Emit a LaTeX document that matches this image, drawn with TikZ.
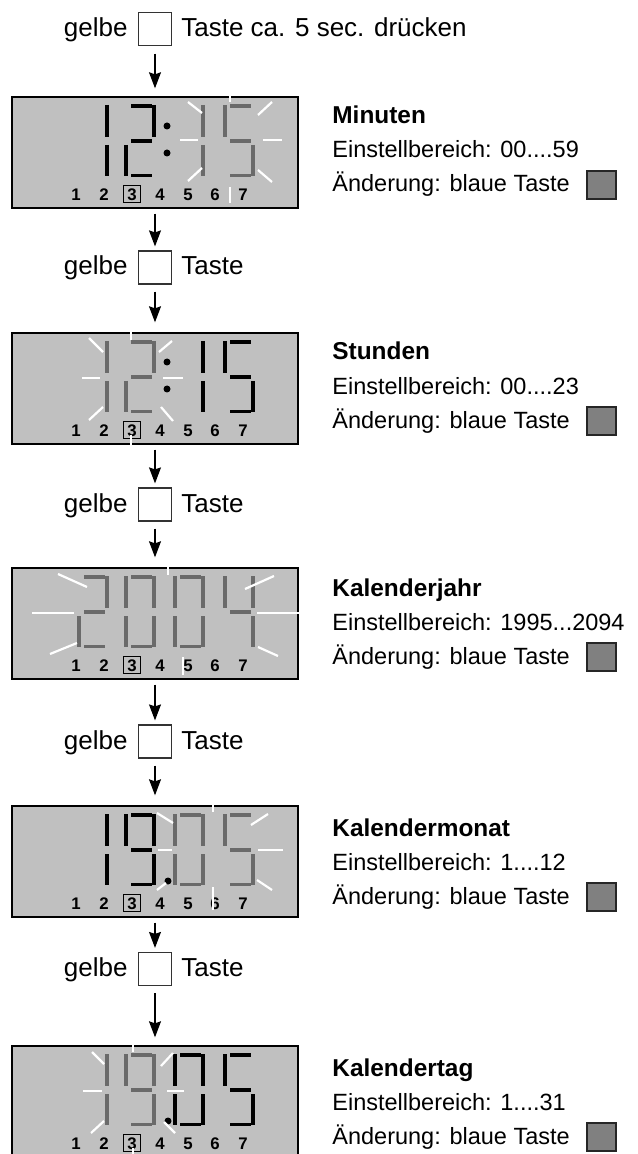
\documentclass[tikz,border=0pt]{standalone}
\usepackage{fontspec}
\setmainfont{Liberation Sans}
\usetikzlibrary{arrows.meta}
\definecolor{lcd}{HTML}{C0C0C0}
\definecolor{segg}{HTML}{6A6A6A}
\definecolor{bluek}{HTML}{808080}
\definecolor{keyb}{HTML}{333333}
% seven-segment pieces: #1 = left x of cell, #2 = style
\newcommand\sgA[2]{\draw[#2] ({#1+5},9) -- ({#1+26},9);}
\newcommand\sgG[2]{\draw[#2] ({#1+5},44) -- ({#1+26},44);}
\newcommand\sgD[2]{\draw[#2] ({#1+5},78.5) -- ({#1+26},78.5);}
\newcommand\sgF[2]{\draw[#2] (#1,8) -- (#1,40);}
\newcommand\sgB[2]{\draw[#2] ({#1+28},8) -- ({#1+28},40);}
\newcommand\sgE[2]{\draw[#2] (#1,48) -- (#1,79);}
\newcommand\sgC[2]{\draw[#2] ({#1+28},48) -- ({#1+28},79);}
\newcommand\dgOne[2]{\sgB{#1}{#2}\sgC{#1}{#2}}
\newcommand\dgTwo[2]{\sgA{#1}{#2}\sgB{#1}{#2}\sgG{#1}{#2}\sgE{#1}{#2}\sgD{#1}{#2}}
\newcommand\dgFive[2]{\sgA{#1}{#2}\sgF{#1}{#2}\sgG{#1}{#2}\sgC{#1}{#2}\sgD{#1}{#2}}
\newcommand\dgZero[2]{\sgA{#1}{#2}\sgB{#1}{#2}\sgC{#1}{#2}\sgD{#1}{#2}\sgE{#1}{#2}\sgF{#1}{#2}}
\newcommand\dgFour[2]{\sgF{#1}{#2}\sgB{#1}{#2}\sgG{#1}{#2}\sgC{#1}{#2}}
\newcommand\dgNine[2]{\sgA{#1}{#2}\sgB{#1}{#2}\sgF{#1}{#2}\sgG{#1}{#2}\sgC{#1}{#2}\sgD{#1}{#2}}
% display box with day numbers; #1 = name prefix
\newcommand\lcdbox[1]{%
  \node[disp] (#1) at (155,55.5) {};
  \foreach \i/\xx in {1/76,2/104,3/132,4/160,5/188,6/215,7/243}
    \node[num] (#1n\i) at (\xx,98) {\i};
  \node[sel] (#1s) at (132,97) {};
}
% right-hand text block; #1 prefix, #2 title, #3 range, #4 vertical offset
\newcommand\info[4]{%
  \node[ttl] (#1h) at (332,{27+#4}) {#2};
  \node[txt] (#1r) at (332,{61+#4}) {Einstellbereich: #3};
  \node[txt] (#1c) at (332,{95+#4}) {Änderung: blaue Taste};
  \node[bkey] (#1b) at (601.5,{88+#4}) {};
}
\begin{document}
\begin{tikzpicture}[x=0.5pt,y=-0.5pt,
  lbl/.style={font=\fontsize{13}{15}\selectfont, inner sep=0},
  ttl/.style={font=\bfseries\fontsize{12.2}{14}\selectfont, inner sep=0, anchor=base west},
  txt/.style={font=\fontsize{11.75}{14}\selectfont, inner sep=0, anchor=base west},
  num/.style={font=\bfseries\fontsize{8.4}{10}\selectfont, inner sep=0},
  sel/.style={draw, line width=0.6pt, minimum width=8.8pt, minimum height=8.4pt, inner sep=0},
  disp/.style={draw, fill=lcd, line width=0.7pt, minimum width=143pt, minimum height=55.5pt, inner sep=0},
  gkey/.style={draw=keyb, fill=white, line width=0.6pt, minimum size=16.5pt, inner sep=0},
  bkey/.style={draw=black!85, fill=bluek, line width=0.6pt, minimum width=14.5pt, minimum height=14pt, inner sep=0},
  sk/.style={line width=1.55pt, black},
  sg/.style={line width=1.55pt, segg},
  ray/.style={white, line width=1.1pt},
  arr/.style={-{Stealth[length=8pt,width=6pt,inset=1pt]}, line width=0.6pt}]
\useasboundingbox (0,0) rectangle (637,1154);

% ---------- key rows ----------
\node[gkey] (k1) at (155,29) {};
\node[lbl, anchor=base east] (g1) at (128,36.5) {gelbe};
\node[lbl, anchor=base west] (t1) at (181,36.5) {Taste ca. 5 sec. drücken};

\node[gkey] (k2) at (155,267.5) {};
\node[lbl, anchor=base east] (g2) at (128,275) {gelbe};
\node[lbl, anchor=base west] (t2) at (181,275) {Taste};

\node[gkey] (k3) at (155,504.5) {};
\node[lbl, anchor=base east] (g3) at (128,512) {gelbe};
\node[lbl, anchor=base west] (t3) at (181,512) {Taste};

\node[gkey] (k4) at (155,741.5) {};
\node[lbl, anchor=base east] (g4) at (128,749) {gelbe};
\node[lbl, anchor=base west] (t4) at (181,749) {Taste};

\node[gkey] (k5) at (155,969) {};
\node[lbl, anchor=base east] (g5) at (128,976.5) {gelbe};
\node[lbl, anchor=base west] (t5) at (181,976.5) {Taste};

% ---------- display 1: 12:15, minutes blinking ----------
\begin{scope}[shift={(0,97)}]
  \lcdbox{d1}
  \dgOne{79}{sk}\dgTwo{126}{sk}
  \fill (167,29) circle[radius=3.5]; \fill (167,56) circle[radius=3.5];
  \dgOne{175}{sg}\dgFive{225}{sg}
  \draw[ray] (230,-7) -- (230,5);
  \draw[ray] (188,5) -- (202,16);
  \draw[ray] (258,18) -- (272,5);
  \draw[ray] (180,43) -- (198,43);
  \draw[ray] (263,43) -- (282,43);
  \draw[ray] (188,84) -- (202,71);
  \draw[ray] (258,73) -- (272,85);
  \draw[ray] (230,90) -- (230,106);
  \info{i1}{Minuten}{00....59}{0}
\end{scope}

% ---------- display 2: 12:15, hours blinking ----------
\begin{scope}[shift={(0,333)}]
  \lcdbox{d2}
  \dgOne{79}{sg}\dgTwo{126}{sg}
  \fill (167,29) circle[radius=3.5]; \fill (167,56) circle[radius=3.5];
  \dgOne{175}{sk}\dgFive{225}{sk}
  \draw[ray] (131,-7) -- (131,7);
  \draw[ray] (89,5) -- (103,19);
  \draw[ray] (159,19) -- (172,8);
  \draw[ray] (82,45) -- (100,45);
  \draw[ray] (163,45) -- (183,45);
  \draw[ray] (89,87) -- (103,74);
  \draw[ray] (161,74) -- (173,88);
  \draw[ray] (131,102) -- (131,118);
  \info{i2}{Stunden}{00....23}{0}
\end{scope}

% ---------- display 3: 2004 blinking ----------
\begin{scope}[shift={(0,568)}]
  \lcdbox{d3}
  \dgTwo{79}{sg}\dgZero{126}{sg}\dgZero{175}{sg}\dgFour{225}{sg}
  \draw[ray] (168,-7) -- (168,7);
  \draw[ray] (58,6) -- (87,19);
  \draw[ray] (245,21) -- (274,8);
  \draw[ray] (32,45) -- (74,45);
  \draw[ray] (257,45) -- (303,45);
  \draw[ray] (50,86) -- (77,75);
  \draw[ray] (258,79) -- (278,88);
  \draw[ray] (183,89) -- (183,107);
  \info{i3}{Kalenderjahr}{1995...2094}{1}
\end{scope}

% ---------- display 4: 19.05, month blinking ----------
\begin{scope}[shift={(0,806)}]
  \lcdbox{d4}
  \dgOne{79}{sk}\dgNine{126}{sk}
  \fill (168,75) circle[radius=3.5];
  \dgZero{175}{sg}\dgFive{225}{sg}
  \draw[ray] (213,-7) -- (213,6);
  \draw[ray] (157,7) -- (173,17);
  \draw[ray] (251,19) -- (268,8);
  \draw[ray] (158,44) -- (172,44);
  \draw[ray] (258,44) -- (283,44);
  \draw[ray] (157,84) -- (166,77);
  \draw[ray] (257,74) -- (272,84);
  \draw[ray] (213,81) -- (213,104);
  \info{i4}{Kalendermonat}{1....12}{3}
\end{scope}

% ---------- display 5: 19.05, day blinking ----------
\begin{scope}[shift={(0,1046)}]
  \lcdbox{d5}
  \dgOne{79}{sg}\dgNine{126}{sg}
  \fill (168,75) circle[radius=3.5];
  \dgZero{175}{sk}\dgFive{225}{sk}
  \draw[ray] (133,-7) -- (133,6);
  \draw[ray] (92,6) -- (104,18);
  \draw[ray] (161,20) -- (173,7);
  \draw[ray] (83,45) -- (102,45);
  \draw[ray] (167,45) -- (184,45);
  \draw[ray] (91,87) -- (104,75);
  \draw[ray] (164,76) -- (175,87);
  \draw[ray] (133,102) -- (133,115);
  \info{i5}{Kalendertag}{1....31}{3}
\end{scope}

% ---------- connectors ----------
\draw[arr, shorten <=3.75pt, shorten >=4pt] (k1) -- (d1);
\draw[arr, shorten <=2.5pt, shorten >=2pt] (d1) -- (k2);
\draw[arr, shorten <=3.5pt, shorten >=5pt] (k2) -- (d2);
\draw[arr, shorten <=2.5pt, shorten >=2pt] (d2) -- (k3);
\draw[arr, shorten <=3.5pt, shorten >=5pt] (k3) -- (d3);
\draw[arr, shorten <=2.5pt, shorten >=2pt] (d3) -- (k4);
\draw[arr, shorten <=3.5pt, shorten >=5pt] (k4) -- (d4);
\draw[arr, shorten <=2.5pt, shorten >=2pt] (d4) -- (k5);
\draw[arr, shorten <=3.5pt, shorten >=4pt] (k5) -- (d5);
\end{tikzpicture}
\end{document}
